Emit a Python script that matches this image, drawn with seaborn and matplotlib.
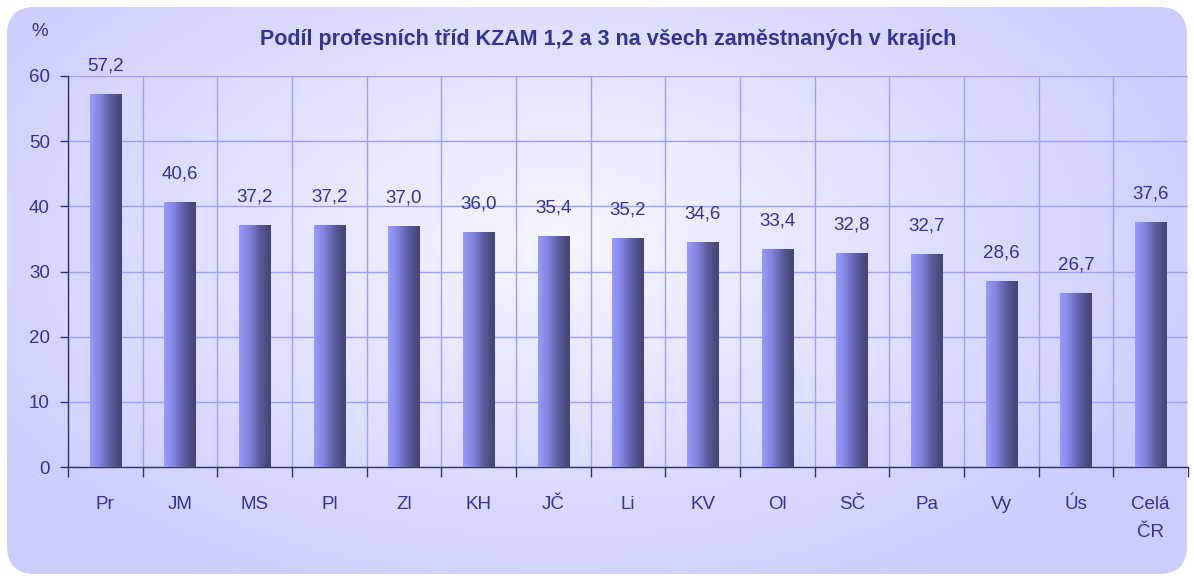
import numpy as np
import matplotlib.pyplot as plt
import seaborn as sns
from matplotlib.patches import FancyBboxPatch
from matplotlib.colors import LinearSegmentedColormap

# data
regions = ["Pr", "JM", "MS", "Pl", "Zl", "KH", "JČ", "Li", "KV", "Ol", "SČ", "Pa", "Vy", "Ús", "Celá\nČR"]
shares = [57.2, 40.6, 37.2, 37.2, 37.0, 36.0, 35.4, 35.2, 34.6, 33.4, 32.8, 32.7, 28.6, 26.7, 37.6]
title = "Podíl profesních tříd KZAM 1,2 a 3 na všech zaměstnaných v krajích"

sns.set_style("white")
plt.rcParams['font.family'] = ['Liberation Sans', 'DejaVu Sans']

txt = '#333399'
fs = 13.5
W, H = 1194, 579

fig = plt.figure(figsize=(W / 100, H / 100), dpi=100)

# background: rounded box with a radial gradient
bg = fig.add_axes([0, 0, 1, 1])
bg.set_xlim(0, W)
bg.set_ylim(H, 0)
bg.axis('off')
yy, xx = np.mgrid[0:H, 0:W]
d = np.sqrt(((xx - 560) / 700.0) ** 2 + ((yy - 240) / 400.0) ** 2)
d = np.clip(d, 0, 1) ** 0.9
c0 = np.array([0.97, 0.97, 1.0])
c1 = np.array([0.80, 0.80, 1.0])
img = c0 * (1 - d[..., None]) + c1 * d[..., None]
box = FancyBboxPatch((7, 7), W - 14, H - 12, boxstyle="round,pad=0,rounding_size=28",
                     facecolor='none', edgecolor='none')
bg.add_patch(box)
im = bg.imshow(img, extent=[0, W, H, 0], aspect='auto')
im.set_clip_path(box)

# main axes
ax = fig.add_axes([68 / W, 1 - 467 / H, 1120 / W, 391 / H])
ax.patch.set_alpha(0)

sns.barplot(x=list(range(len(regions))), y=shares, ax=ax, width=0.42, color='#8888ee', saturation=1)

bar_cmap = LinearSegmentedColormap.from_list('bar', ['#9a9aff', '#8080dd', '#5a5a99', '#444476'])
grad = np.linspace(0, 1, 64).reshape(1, -1)
for p in ax.patches:
    x0, y0 = p.get_x(), p.get_y()
    w, h = p.get_width(), p.get_height()
    p.set_facecolor('none')
    p.set_edgecolor('none')
    g = ax.imshow(grad, extent=[x0, x0 + w, y0, y0 + h], cmap=bar_cmap, aspect='auto', zorder=3)
    g.set_clip_path(p)

for i, v in enumerate(shares):
    ax.annotate(f"{v:.1f}".replace('.', ','), (i, v), xytext=(0, 14), textcoords='offset points',
                ha='center', va='bottom', fontsize=fs, color=txt)

ax.set_xlim(-0.5, len(regions) - 0.5)
ax.set_ylim(0, 60)
ax.set_yticks(range(0, 61, 10))
ax.set_xticks(range(len(regions)))
ax.set_xticklabels(regions)
ax.set_xticks(np.arange(-0.5, len(regions), 1), minor=True)

ax.grid(True, axis='y', which='major', color='#9f9fff', lw=1, zorder=0)
ax.grid(True, axis='x', which='minor', color='#9f9fff', lw=1, zorder=0)
ax.set_axisbelow(True)

ax.tick_params(axis='y', which='major', length=6, width=1, color='#333366', pad=7,
               labelsize=fs, labelcolor=txt, left=True)
ax.tick_params(axis='x', which='major', length=0, pad=21, labelsize=fs, labelcolor=txt)
ax.tick_params(axis='x', which='minor', length=7, width=1, color='#333366', bottom=True)
for lab in ax.get_xticklabels():
    lab.set_linespacing(1.85)
    lab.set_verticalalignment('top')

for s in ['top', 'right']:
    ax.spines[s].set_visible(False)
for s in ['left', 'bottom']:
    ax.spines[s].set_color('#333366')
    ax.spines[s].set_linewidth(1)

fig.text(40 / W, 1 - 32 / H, "%", ha='center', va='center', fontsize=fs, color=txt)
fig.text(608 / W, 1 - 40 / H, title, ha='center', va='center', fontsize=15.5,
         fontweight='bold', color=txt)

fig.savefig('out.png', dpi=100)
